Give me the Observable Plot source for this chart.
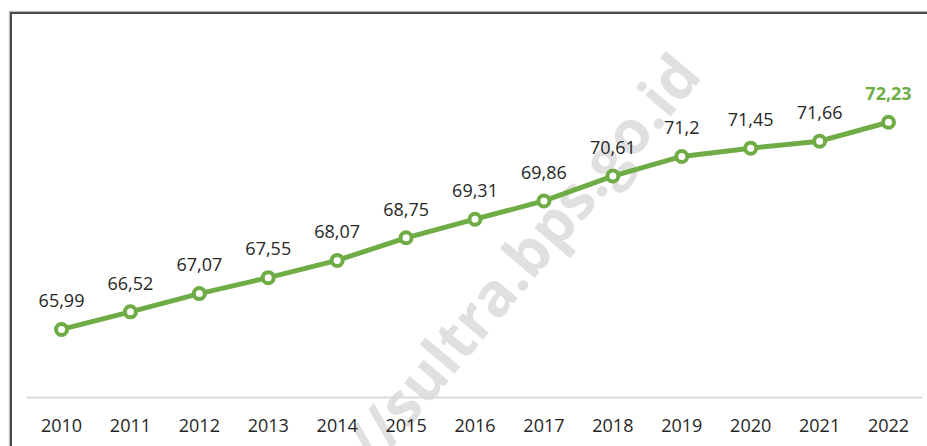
<!DOCTYPE html>
<html>
<head>
<meta charset="utf-8">
<script src="https://cdn.jsdelivr.net/npm/d3@7"></script>
<script src="https://cdn.jsdelivr.net/npm/@observablehq/plot@0.6"></script>
<style>
  html, body { margin: 0; padding: 0; background: #fff; overflow: hidden; }
  #wrap { position: relative; width: 927px; height: 446px; overflow: hidden; }
  #frame { position: absolute; left: 10px; top: 12px; width: 1000px; height: 1000px;
           border-left: 2px solid #4a4a4a; border-top: 2px solid #4a4a4a;
           box-shadow: -1px -1px 1px #bbb; pointer-events: none; }
  #wmAnchor { position: absolute; left: 686px; top: 62px; width: 0; height: 0;
              transform: rotate(-50deg); transform-origin: 0 0; }
  #wm { position: absolute; right: 0; top: -42px; line-height: 84px;
        font-family: "Open Sans", sans-serif; font-weight: 700; font-size: 60px; color: #e0e0e0;
        white-space: nowrap; }
  #chart { position: absolute; left: 0; top: 0; }
</style>
</head>
<body>
<div id="wrap">
  <div id="wmAnchor"><div id="wm">http://sultra.bps.go.id</div></div>
  <div id="chart"></div>
  <div id="frame"></div>
</div>
<script>
const years = [2010, 2011, 2012, 2013, 2014, 2015, 2016, 2017, 2018, 2019, 2020, 2021, 2022];
const values = [65.99, 66.52, 67.07, 67.55, 68.07, 68.75, 69.31, 69.86, 70.61, 71.2, 71.45, 71.66, 72.23];
const valueLabels = ["65,99", "66,52", "67,07", "67,55", "68,07", "68,75", "69,31", "69,86", "70,61", "71,2", "71,45", "71,66", "72,23"];
const yearLabels = years.map(String);

const data = years.map((y, i) => ({year: y, value: values[i], label: valueLabels[i], last: i === years.length - 1}));
const green = "#6fac46";
const font = "'Open Sans', sans-serif";

const chart = Plot.plot({
  width: 927,
  height: 446,
  marginLeft: 61,
  marginRight: 39,
  marginTop: 63,
  marginBottom: 51,
  style: {background: "transparent", fontFamily: font},
  x: {domain: [2010, 2022], axis: null},
  y: {domain: [64, 74], axis: null},
  marks: [
    Plot.ruleY([64], {x1: 2009.5, x2: 2022.5, stroke: "#d9d9d9", strokeWidth: 2, dy: 2}),
    Plot.text(years, {x: d => d, y: () => 64, text: (d, i) => yearLabels[i], dy: 31, fontSize: 18, fill: "#262626", lineAnchor: "middle"}),
    Plot.line(data, {x: "year", y: "value", stroke: green, strokeWidth: 5, strokeLinejoin: "round"}),
    Plot.dot(data, {x: "year", y: "value", r: 5.5, stroke: green, strokeWidth: 4, fill: "white"}),
    Plot.text(data.filter(d => !d.last), {x: "year", y: "value", text: "label", dy: -28, fontSize: 18, fill: "#262626", lineAnchor: "middle"}),
    Plot.text(data.filter(d => d.last), {x: "year", y: "value", text: "label", dy: -28, fontSize: 18, fontWeight: "bold", fill: green, lineAnchor: "middle"})
  ]
});
document.getElementById("chart").appendChild(chart);
</script>
</body>
</html>
